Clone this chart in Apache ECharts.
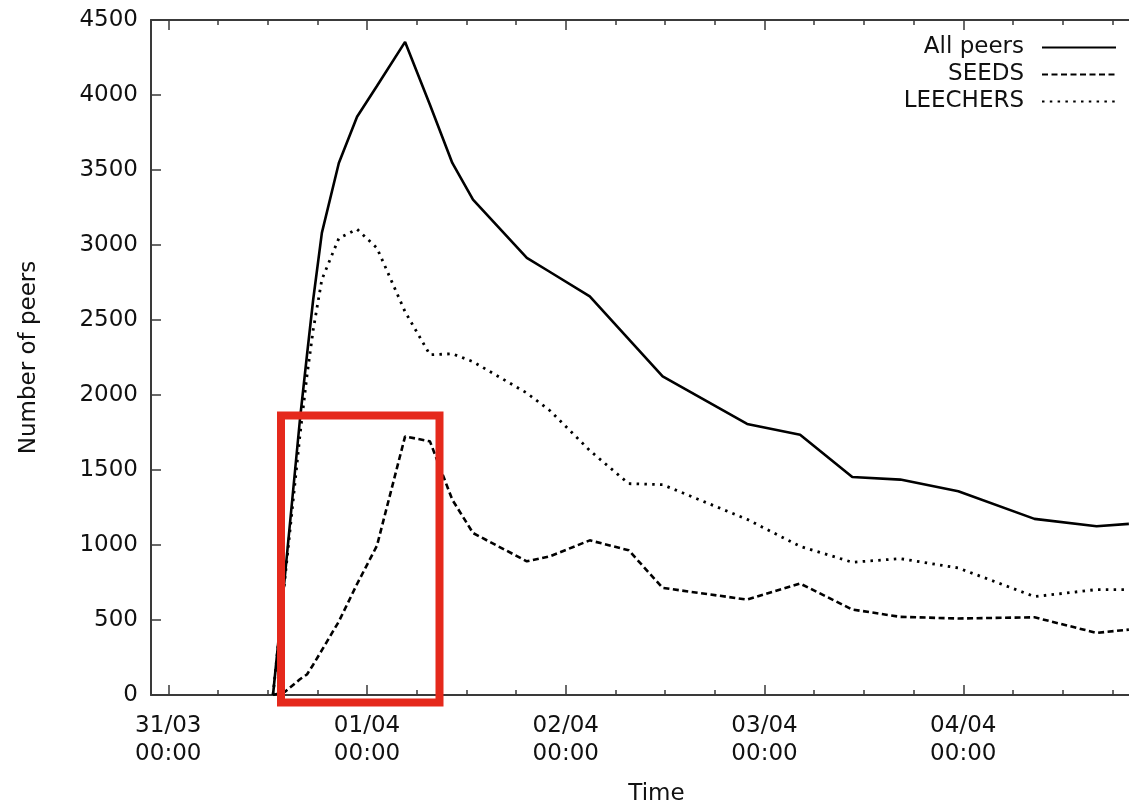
<!DOCTYPE html>
<html>
<head>
<meta charset="utf-8">
<script src="https://cdn.jsdelivr.net/npm/echarts@6/dist/echarts.min.js"></script>
<style>
  html, body { margin: 0; padding: 0; background: #fff; }
  #chart { width: 1129px; height: 805px; }
</style>
</head>
<body>
<div id="chart"></div>
<script>
// Sample times (dd/mm hh:mm) shared by the three series
const times = [
  '31/03 12:39', '31/03 14:06', '31/03 15:54', '31/03 16:45', '31/03 17:30',
  '31/03 18:33', '31/03 20:36', '31/03 22:48', '01/04 01:12', '01/04 04:36',
  '01/04 07:36', '01/04 10:18', '01/04 12:48', '01/04 19:18', '01/04 22:06',
  '02/04 02:54', '02/04 07:36', '02/04 11:42', '02/04 21:54', '03/04 04:18',
  '03/04 10:36', '03/04 16:24', '03/04 23:24', '04/04 08:36', '04/04 16:06',
  '04/04 20:00'
];

const allPeers = [
  0, 800, 1835, 2265, 2635,
  3081, 3547, 3855, 4060, 4354,
  3935, 3547, 3302, 2914, 2820,
  2657, 2372, 2124, 1807, 1735,
  1453, 1436, 1358, 1174, 1125,
  1141
];

const seeds = [
  0, 22, 105, 137, 202,
  299, 490, 740, 995, 1724,
  1691, 1302, 1080, 891, 925,
  1031, 965, 714, 636, 743,
  570, 521, 510, 518, 414,
  436
];

const leechers = [
  0, 780, 1730, 2128, 2433,
  2770, 3045, 3105, 2980, 2555,
  2268, 2275, 2222, 2013, 1895,
  1630, 1409, 1402, 1171, 991,
  885, 909, 847, 656, 703,
  703
];

// Axis range, labelled days and y ticks
const axisStart = '30/03 21:55';
const axisEnd = '05/04 00:00';
const majorTicks = ['31/03 00:00', '01/04 00:00', '02/04 00:00', '03/04 00:00', '04/04 00:00'];
const yTicks = [0, 500, 1000, 1500, 2000, 2500, 3000, 3500, 4000, 4500];

const YEAR = 2000;
function toMs(s) {
  const [d, t] = s.split(' ');
  const [dd, mm] = d.split('/').map(Number);
  const [hh, mi] = t.split(':').map(Number);
  return Date.UTC(YEAR, mm - 1, dd, hh, mi);
}
function pad(n) { return (n < 10 ? '0' : '') + n; }
function fmtTick(v) {
  const dt = new Date(v);
  return pad(dt.getUTCDate()) + '/' + pad(dt.getUTCMonth() + 1) + '\n' +
         pad(dt.getUTCHours()) + ':' + pad(dt.getUTCMinutes());
}

const xMin = toMs(axisStart);
const xMax = toMs(axisEnd);
const majorMs = majorTicks.map(toMs);
const minorMs = [];
for (let v = majorMs[0]; v <= xMax; v += 6 * 3600e3) minorMs.push(v);

const pair = (vals) => times.map((t, i) => [toMs(t), vals[i]]);

const FONT = 'DejaVu Sans';
const AX = '#3a3a3a';

function xAxisDef(pos, ticks, len, showLine, showLabel) {
  return {
    type: 'value', position: pos, min: xMin, max: xMax,
    gridIndex: 0,
    axisLine: { show: showLine, onZero: false, lineStyle: { color: AX, width: 2 } },
    axisTick: { show: true, inside: true, length: len, customValues: ticks, lineStyle: { color: AX, width: 1.5 } },
    axisLabel: showLabel ? {
      show: true, customValues: majorMs, formatter: fmtTick,
      fontFamily: FONT, fontSize: 23, color: '#111', lineHeight: 28, margin: 17
    } : { show: false },
    splitLine: { show: false },
    name: showLabel ? 'Time' : '',
    nameLocation: 'middle', nameGap: 88,
    nameTextStyle: { fontFamily: FONT, fontSize: 23, color: '#111' }
  };
}

const chart = echarts.init(document.getElementById('chart'), null, { renderer: 'canvas' });
chart.setOption({
  animation: false,
  backgroundColor: '#fff',
  grid: { left: 151, top: 20, width: 1011, height: 675, containLabel: false, outerBoundsMode: 'none' },
  xAxis: [
    xAxisDef('bottom', majorMs, 10, true, true),
    xAxisDef('bottom', minorMs, 5, false, false),
    xAxisDef('top', majorMs, 10, true, false),
    xAxisDef('top', minorMs, 5, false, false)
  ],
  yAxis: [{
    type: 'value', min: 0, max: 4500, position: 'left',
    axisLine: { show: true, lineStyle: { color: AX, width: 2 } },
    axisTick: { show: true, inside: true, length: 10, customValues: yTicks, lineStyle: { color: AX, width: 1.5 } },
    axisLabel: { customValues: yTicks, formatter: (v) => String(v), fontFamily: FONT, fontSize: 23, color: '#111', margin: 13 },
    splitLine: { show: false },
    name: 'Number of peers', nameLocation: 'middle', nameGap: 110,
    nameTextStyle: { fontFamily: FONT, fontSize: 23, color: '#111' }
  }],
  legend: {
    orient: 'vertical', right: 7, top: 29, align: 'right',
    itemWidth: 74, itemHeight: 14, itemGap: 0,
    itemStyle: { opacity: 0 },
    textStyle: { fontFamily: FONT, fontSize: 23, color: '#111', lineHeight: 27, padding: [0, 13, 0, 0] },
    data: ['All peers', 'SEEDS', 'LEECHERS']
  },
  series: [
    {
      name: 'All peers', type: 'line', data: pair(allPeers), symbol: 'none',
      lineStyle: { color: '#000', width: 2.6, type: 'solid' }, itemStyle: { color: '#000' }
    },
    {
      name: 'SEEDS', type: 'line', data: pair(seeds), symbol: 'none',
      lineStyle: { color: '#000', width: 2.6, type: [6, 3.5] }, itemStyle: { color: '#000' }
    },
    {
      name: 'LEECHERS', type: 'line', data: pair(leechers), symbol: 'none',
      lineStyle: { color: '#000', width: 2.8, type: [2.5, 5.3] }, itemStyle: { color: '#000' }
    }
  ],
  graphic: [{
    type: 'rect', z: 100,
    shape: { x: 281, y: 415.5, width: 158.5, height: 287 },
    style: { fill: 'none', stroke: '#e5291c', lineWidth: 8 }
  }]
});
</script>
</body>
</html>
